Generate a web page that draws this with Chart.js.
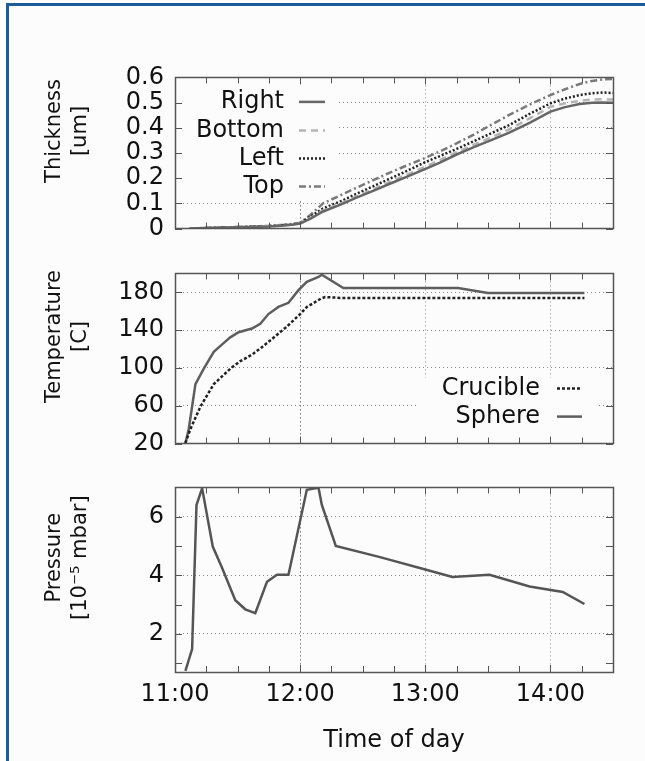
<!DOCTYPE html>
<html>
<head>
<meta charset="utf-8">
<script src="https://cdn.jsdelivr.net/npm/chart.js@4.4.1/dist/chart.umd.min.js"></script>
<style>
  html, body { margin: 0; padding: 0; background: #fff; }
  #page { position: relative; width: 645px; height: 761px; overflow: hidden; background: #fff; }
  #frame { position: absolute; left: 6px; top: 3px; width: 660px; height: 780px;
           border-top: 3px solid #1d5c9b; border-left: 3px solid #1d5c9b; background: #fcfcfc; }
  canvas { position: absolute; left: 0; }
</style>
</head>
<body>
<div id="page">
  <div id="frame"></div>
  <canvas id="thick" width="645" height="202" style="top:52px"></canvas>
  <canvas id="temp" width="645" height="221" style="top:248px"></canvas>
  <canvas id="press" width="645" height="299" style="top:462px"></canvas>
</div>
<script>
// time is in minutes after 11:00
const timeTicks = [0, 15, 30, 45, 60, 75, 90, 105, 120, 135, 150, 165, 180, 195, 210];
const hourTicks = [0, 60, 120, 180];
const hourLabels = ["11:00", "12:00", "13:00", "14:00"];

// thickness [um]
const thickTime = [7, 15, 25, 35, 45, 52, 57, 60, 65, 71, 80, 87, 95, 103, 111, 119, 127, 135, 143, 151, 160, 170, 180, 187, 194, 200, 205, 210];
const thickRight  = [0, 0.002, 0.004, 0.006, 0.008, 0.012, 0.016, 0.02, 0.04, 0.068, 0.097, 0.123, 0.15, 0.178, 0.205, 0.233, 0.262, 0.294, 0.322, 0.349, 0.38, 0.42, 0.464, 0.482, 0.494, 0.499, 0.5, 0.499];
const thickBottom = [0, 0.002, 0.004, 0.006, 0.009, 0.013, 0.017, 0.021, 0.043, 0.072, 0.102, 0.128, 0.156, 0.185, 0.213, 0.242, 0.272, 0.303, 0.332, 0.36, 0.393, 0.437, 0.483, 0.497, 0.507, 0.512, 0.513, 0.512];
const thickLeft   = [0, 0.002, 0.005, 0.007, 0.01, 0.014, 0.018, 0.022, 0.048, 0.08, 0.11, 0.138, 0.168, 0.198, 0.228, 0.26, 0.288, 0.316, 0.346, 0.376, 0.41, 0.455, 0.497, 0.516, 0.53, 0.537, 0.54, 0.538];
const thickTop    = [0, 0.003, 0.005, 0.008, 0.011, 0.015, 0.019, 0.023, 0.055, 0.1, 0.135, 0.162, 0.192, 0.222, 0.25, 0.277, 0.306, 0.338, 0.372, 0.409, 0.45, 0.492, 0.53, 0.553, 0.574, 0.586, 0.592, 0.594];
const thickTicks = [0, 0.1, 0.2, 0.3, 0.4, 0.5, 0.6];
const thickLabels = ["0", "0.1", "0.2", "0.3", "0.4", "0.5", "0.6"];

// temperature [C]
const sphereTime = [5, 6.6, 9.8, 13.8, 18.6, 22.6, 26.5, 30.5, 36.9, 40.9, 44.8, 49.6, 54.4, 59.2, 63.2, 68.8, 70.4, 80.7, 135.7, 150, 196.3];
const sphereTemp = [20.6, 35.4, 82.9, 99.2, 117, 125, 132.4, 137.8, 141.7, 146.6, 157, 164.5, 168.9, 182.3, 191, 196.2, 198.6, 184.6, 184.6, 179.3, 179.3];
const crucibleTime = [5, 7.4, 12.2, 18.6, 26.5, 31.3, 36.9, 41.7, 47.2, 53.6, 60, 63.2, 70, 72, 80, 196.3];
const crucibleTemp = [20.6, 35.4, 59.2, 82.9, 99.2, 107.2, 114, 122, 131.9, 143.7, 157, 164.5, 173.4, 175, 174, 174];
const tempTicks = [20, 60, 100, 140, 180];

// pressure [1e-5 mbar]
const pressTime = [5, 8.2, 10.3, 13, 18.1, 22.6, 28.9, 33.7, 38.5, 44.1, 48.9, 54.4, 63.2, 68.8, 70.4, 77.1, 98.3, 120, 133, 150.8, 170, 185.9, 196.3];
const pressVal  = [0.74, 1.48, 6.4, 6.97, 4.98, 4.25, 3.15, 2.84, 2.71, 3.78, 4.02, 4.02, 6.92, 6.99, 6.4, 5.0, 4.62, 4.2, 3.94, 4.02, 3.62, 3.43, 3.02];
const pressTicks = [1, 2, 3, 4, 5, 6, 7];
const pressLabels = ["", "2", "", "4", "", "6", ""];

const FONT = "'DejaVu Sans', sans-serif";
const INK = "#111";
const BG = "#fcfcfc";
const GRID = "#8c8c8c";

const pts = (xs, ys) => xs.map((x, i) => ({ x: x, y: ys[i] }));

function xAxis(showLabels) {
  return {
    type: "linear", min: 0, max: 210,
    afterBuildTicks: s => { s.ticks = timeTicks.map(v => ({ value: v })); },
    afterFit: s => { s.height = showLabels ? 89 : 0; },
    grid: {
      drawTicks: false, lineWidth: 1,
      color: c => {
        const v = c.tick ? c.tick.value : -1;
        if (v === 60) return "#333";
        return (v === 120 || v === 180) ? GRID : "rgba(0,0,0,0)";
      }
    },
    border: { display: false, dash: [1, 3] },
    ticks: {
      display: showLabels, autoSkip: false, maxRotation: 0, padding: 8, color: INK,
      font: { family: FONT, size: 24 },
      callback: v => { const i = hourTicks.indexOf(v); return i < 0 ? "" : hourLabels[i]; }
    },
    title: {
      display: showLabels, text: "Time of day", color: INK,
      font: { family: FONT, size: 24 }, padding: { top: 0, bottom: 6 }
    }
  };
}

function yAxis(min, max, ticks, labels, gridOn) {
  return {
    type: "linear", min: min, max: max,
    afterBuildTicks: s => { s.ticks = ticks.map(v => ({ value: v })); },
    afterFit: s => { s.width = 175; },
    grid: { drawTicks: false, lineWidth: 1, color: c => gridOn(c.tick ? c.tick.value : NaN) ? GRID : "rgba(0,0,0,0)" },
    border: { display: false, dash: [1, 3] },
    ticks: {
      autoSkip: false, padding: 11, color: INK, font: { family: FONT, size: 24 },
      callback: (v, i) => labels[i]
    }
  };
}

// gnuplot style border with inward tick marks
const gnuFrame = {
  id: "gnuFrame",
  afterDatasetsDraw(chart) {
    const { ctx, chartArea: a, scales } = chart;
    ctx.save();
    ctx.strokeStyle = "#555";
    ctx.lineWidth = 1;
    ctx.beginPath();
    scales.x.ticks.forEach(t => {
      const px = Math.round(scales.x.getPixelForValue(t.value)) + 0.5;
      const len = t.value % 60 === 0 ? 7 : 6;
      ctx.moveTo(px, a.top); ctx.lineTo(px, a.top + len);
      ctx.moveTo(px, a.bottom); ctx.lineTo(px, a.bottom - len);
    });
    scales.y.ticks.forEach(t => {
      const py = Math.round(scales.y.getPixelForValue(t.value)) + 0.5;
      ctx.moveTo(a.left, py); ctx.lineTo(a.left + 7, py);
      ctx.moveTo(a.right, py); ctx.lineTo(a.right - 7, py);
    });
    ctx.stroke();
    ctx.lineWidth = 1.5;
    ctx.strokeRect(Math.round(a.left) + 0.5, Math.round(a.top) + 0.5, Math.round(a.width), Math.round(a.height));
    ctx.restore();
  }
};

// rotated two-line axis title, drawn a little above the panel centre like the original
function sideTitle(lines) {
  return {
    id: "sideTitle",
    afterDraw(chart) {
      const { ctx, chartArea: a } = chart;
      const cy = (a.top + a.bottom) / 2 - 22;
      ctx.save();
      ctx.fillStyle = INK;
      ctx.font = "21px " + FONT;
      ctx.textAlign = "center";
      ctx.textBaseline = "middle";
      lines.forEach((txt, i) => {
        ctx.save();
        ctx.translate(55 + i * 26, cy);
        ctx.rotate(-Math.PI / 2);
        ctx.fillText(txt, 0, 0);
        ctx.restore();
      });
      ctx.restore();
    }
  };
}

// in-plot key: text right aligned, line sample after it, opaque box hides the grid
function key(k) {
  return {
    id: "key",
    beforeDatasetsDraw(chart) {
      const { ctx, chartArea: a } = chart;
      const ox = k.right ? a.right : a.left, oy = k.bottom ? a.bottom : a.top;
      ctx.save();
      ctx.fillStyle = BG;
      ctx.fillRect(ox + k.box[0], oy + k.box[1], k.box[2] - k.box[0], k.box[3] - k.box[1]);
      ctx.restore();
    },
    afterDatasetsDraw(chart) {
      const { ctx, chartArea: a } = chart;
      const ox = k.right ? a.right : a.left, oy = k.bottom ? a.bottom : a.top;
      ctx.save();
      ctx.font = "24px " + FONT;
      ctx.textAlign = "right";
      ctx.textBaseline = "middle";
      k.rows.forEach((r, i) => {
        const ds = chart.data.datasets[r];
        const y = oy + k.y[i];
        ctx.fillStyle = INK;
        ctx.fillText(ds.label, ox + k.textX, y);
        ctx.strokeStyle = ds.borderColor;
        ctx.lineWidth = ds.borderWidth;
        ctx.setLineDash(ds.borderDash || []);
        ctx.beginPath();
        ctx.moveTo(ox + k.line[0], y);
        ctx.lineTo(ox + k.line[1], y);
        ctx.stroke();
      });
      ctx.restore();
    }
  };
}

function lineDs(label, data, color, dash, width) {
  return { label: label, data: data, borderColor: color, borderDash: dash, borderWidth: width,
           pointRadius: 0, tension: 0, fill: false };
}

const common = {
  responsive: false, animation: false,
  plugins: { legend: { display: false }, tooltip: { enabled: false } }
};

new Chart(document.getElementById("thick"), {
  type: "line",
  data: {
    datasets: [
      lineDs("Right", pts(thickTime, thickRight), "#666", [], 2.5),
      lineDs("Bottom", pts(thickTime, thickBottom), "#b4b4b4", [7, 5], 2.5),
      lineDs("Left", pts(thickTime, thickLeft), "#222", [2, 2], 2.5),
      lineDs("Top", pts(thickTime, thickTop), "#7a7a7a", [7, 3, 2, 3], 2.5)
    ]
  },
  options: Object.assign({}, common, {
    layout: { padding: { top: 10, bottom: 10, left: 0, right: 32 } },
    scales: {
      x: xAxis(false),
      y: yAxis(0, 0.6, thickTicks, thickLabels, v => v > 0 && v < 0.6)
    }
  }),
  plugins: [gnuFrame, sideTitle(["Thickness", "[um]"]),
    key({ right: false, bottom: false, box: [1, 1, 163, 123], textX: 109, line: [124, 150], rows: [0, 1, 2, 3], y: [24.5, 53, 81, 109] })]
});

new Chart(document.getElementById("temp"), {
  type: "line",
  data: {
    datasets: [
      lineDs("Crucible", pts(crucibleTime, crucibleTemp), "#222", [3, 2], 2.5),
      lineDs("Sphere", pts(sphereTime, sphereTemp), "#5e5e5e", [], 2.5)
    ]
  },
  options: Object.assign({}, common, {
    layout: { padding: { top: 10, bottom: 10, left: 0, right: 32 } },
    scales: {
      x: xAxis(false),
      y: yAxis(20, 200, tempTicks, tempTicks.map(String), v => v > 20 && v < 200)
    }
  }),
  plugins: [gnuFrame, sideTitle(["Temperature", "[C]"]),
    key({ right: true, bottom: true, box: [-196, -66, -15, -1], textX: -73, line: [-56, -31], rows: [0, 1], y: [-55, -27] })]
});

new Chart(document.getElementById("press"), {
  type: "line",
  data: {
    datasets: [ lineDs("Pressure", pts(pressTime, pressVal), "#555", [], 2.5) ]
  },
  options: Object.assign({}, common, {
    layout: { padding: { top: 10, bottom: 0, left: 0, right: 32 } },
    scales: {
      x: xAxis(true),
      y: yAxis(0.7, 7, pressTicks, pressLabels, v => v === 2 || v === 4 || v === 6)
    }
  }),
  plugins: [gnuFrame, sideTitle(["Pressure", "[10\u207B\u2075 mbar]"])]
});
</script>
</body>
</html>
